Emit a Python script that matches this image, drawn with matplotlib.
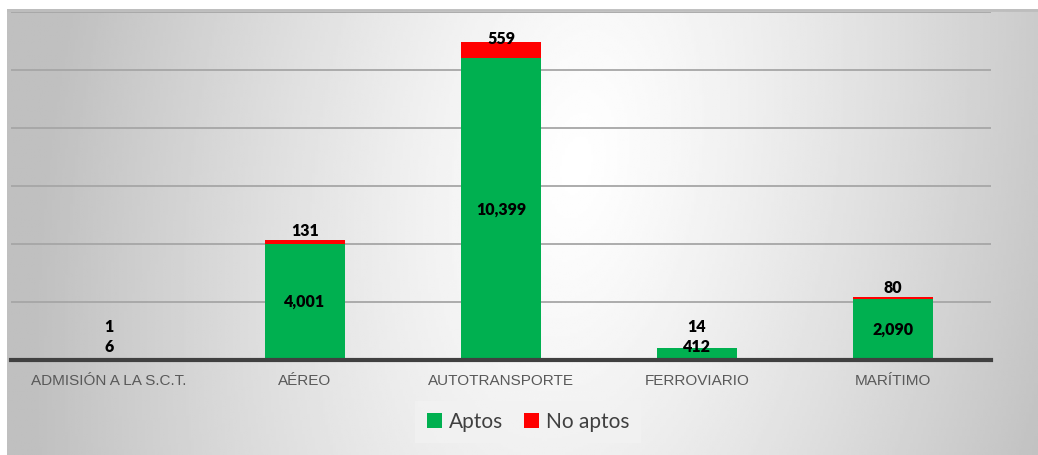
import numpy as np
import matplotlib
matplotlib.use("Agg")
import matplotlib.pyplot as plt
from matplotlib.patches import Patch

# data
categorias = ["ADMISIÓN A LA S.C.T.", "AÉREO", "AUTOTRANSPORTE", "FERROVIARIO", "MARÍTIMO"]
aptos = [6, 4001, 10399, 412, 2090]
no_aptos = [1, 131, 559, 14, 80]

verde = "#00B050"
rojo = "#FF0000"

W, H = 1038, 455
fig = plt.figure(figsize=(W / 100, H / 100), dpi=100)
fig.patch.set_facecolor("white")

# chart area background: gray-white-gray gradient
bg = fig.add_axes([7 / W, 0, (W - 7) / W, (H - 9) / H])
xx, yy = np.meshgrid(np.linspace(0, 1, 400), np.linspace(0, 1, 200))
d = np.sqrt(((xx - 0.57 + 0.05 * yy) / 0.52) ** 2 + ((yy - 0.35) / 2.2) ** 2)
val = 1.0 - 0.25 * np.clip(d, 0, 1) ** 1.2
bg.imshow(val, cmap="gray", vmin=0, vmax=1, aspect="auto", extent=[0, 1, 0, 1])
bg.plot([0, 1], [0.998, 0.998], color="#bdbdbd", lw=2)
bg.set_xlim(0, 1)
bg.set_ylim(0, 1)
bg.axis("off")

# plot area
ax = fig.add_axes([11 / W, (H - 360) / H, 980 / W, 348 / H])
ax.patch.set_alpha(0)
x = np.arange(len(categorias))
ax.bar(x, aptos, width=0.41, color=verde, zorder=3, label="Aptos")
ax.bar(x, no_aptos, width=0.41, bottom=aptos, color=rojo, zorder=3, label="No aptos")

ax.set_xlim(-0.5, len(categorias) - 0.5)
ax.set_ylim(0, 12000)
ax.set_yticks(range(2000, 12001, 2000))
ax.yaxis.grid(True, color="#a6a6a6", lw=1.3, zorder=0)
ax.tick_params(axis="y", left=False, labelleft=False)
ax.tick_params(axis="x", length=0, pad=10, labelsize=11, labelcolor="#595959")
ax.set_xticks(x)
ax.set_xticklabels(categorias, fontfamily="Liberation Sans")
for s in ["top", "right", "left"]:
    ax.spines[s].set_visible(False)
ax.spines["bottom"].set_color("#404040")
ax.spines["bottom"].set_linewidth(3)
ax.spines["bottom"].set_zorder(4)

lab_font = dict(fontfamily="Lato", fontweight="heavy", fontsize=11.5, ha="center", va="center", zorder=5)
for i in range(len(categorias)):
    yg = max(aptos[i] / 2, 440)
    ax.text(x[i], yg, f"{aptos[i]:,}", **lab_font)
    top = aptos[i] + no_aptos[i]
    yr = max(top + 300, yg + 700)
    if yr > 10500:
        yr = top + 100
    ax.text(x[i], yr, f"{no_aptos[i]:,}", **lab_font)

handles = [Patch(facecolor=verde, label="Aptos"), Patch(facecolor=rojo, label="No aptos")]
leg = fig.legend(handles=handles, loc="center", bbox_to_anchor=(528 / W, 1 - 422 / H), ncol=2,
                 frameon=True, fancybox=False, handlelength=0.75, handleheight=0.75,
                 handletextpad=0.3, columnspacing=1.0, borderpad=0.55,
                 prop={"family": "Lato", "size": 15})
leg.get_frame().set_facecolor("#f2f2f2")
leg.get_frame().set_edgecolor("none")
leg.get_frame().set_alpha(0.8)
for t in leg.get_texts():
    t.set_color("#404040")

fig.savefig("out.png", dpi=100)
